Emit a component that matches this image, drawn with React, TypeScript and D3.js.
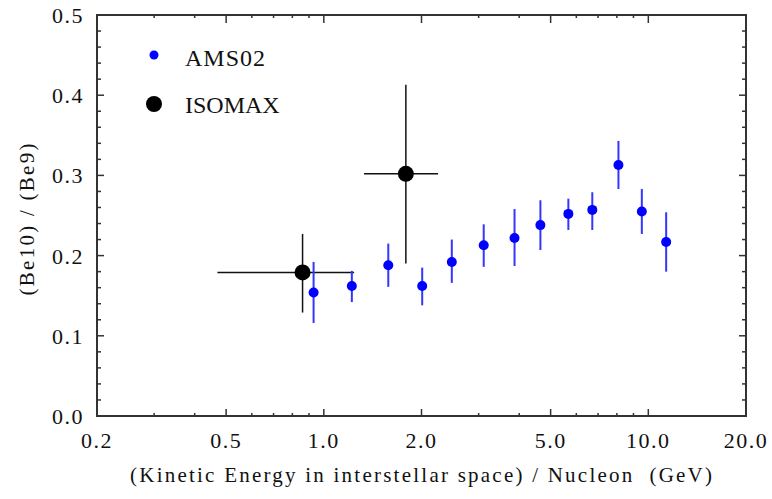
import React from "react";
import * as d3 from "d3";

// AMS02 data
const amsEnergy = [0.93, 1.22, 1.58, 2.01, 2.48, 3.11, 3.87, 4.65, 5.67, 6.72, 8.09, 9.55, 11.35];
const amsRatio = [0.154, 0.162, 0.188, 0.162, 0.192, 0.213, 0.222, 0.238, 0.252, 0.257, 0.313, 0.255, 0.217];
const amsHigh = [0.192, 0.181, 0.215, 0.185, 0.220, 0.239, 0.258, 0.269, 0.271, 0.279, 0.343, 0.283, 0.254];
const amsLow = [0.116, 0.142, 0.161, 0.138, 0.166, 0.186, 0.187, 0.207, 0.232, 0.232, 0.283, 0.227, 0.180];

// ISOMAX data
const isoEnergy = [0.86, 1.79];
const isoELow = [0.47, 1.33];
const isoEHigh = [1.24, 2.25];
const isoRatio = [0.179, 0.302];
const isoHigh = [0.227, 0.413];
const isoLow = [0.129, 0.19];

// ticks
const xMajor = [0.2, 0.5, 1, 2, 5, 10, 20];
const xMajorLabels = ["0.2", "0.5", "1.0", "2.0", "5.0", "10.0", "20.0"];
const xMinor = [0.3, 0.4, 0.6, 0.7, 0.8, 0.9, 3, 4, 6, 7, 8, 9];
const yMajor = [0, 0.1, 0.2, 0.3, 0.4, 0.5];
const yMajorLabels = ["0.0", "0.1", "0.2", "0.3", "0.4", "0.5"];
const yMinor = d3.range(0, 0.5001, 0.02).filter((v) => Math.abs(v * 10 - Math.round(v * 10)) > 1e-6);

const legendNames = ["AMS02", "ISOMAX"];

const W = 772;
const H = 499;
const L = 97, R = 746, T = 15, B = 416;

export default function App() {
  const x = d3.scaleLog().domain([0.2, 20]).range([L, R]);
  const y = d3.scaleLinear().domain([0, 0.5]).range([B, T]);
  const axisColor = "#333";
  const font = "'Liberation Serif', 'Times New Roman', serif";

  return (
    <svg width={W} height={H} style={{ position: "absolute", left: 0, top: 0, background: "#fff" }}>
      <rect x={0} y={0} width={W} height={H} fill="#fff" />
      {/* ticks */}
      <g stroke={axisColor} strokeWidth={1.5}>
        {xMajor.slice(1, -1).map((v) => (
          <g key={"xm" + v}>
            <line x1={x(v)} x2={x(v)} y1={B} y2={B - 7} />
            <line x1={x(v)} x2={x(v)} y1={T} y2={T + 8} />
          </g>
        ))}
        {xMinor.map((v) => (
          <g key={"xn" + v}>
            <line x1={x(v)} x2={x(v)} y1={B} y2={B - 3} />
            <line x1={x(v)} x2={x(v)} y1={T} y2={T + 3} />
          </g>
        ))}
        {yMajor.slice(1, -1).map((v) => (
          <g key={"ym" + v}>
            <line x1={L} x2={L + 7} y1={y(v)} y2={y(v)} />
            <line x1={R} x2={R - 7} y1={y(v)} y2={y(v)} />
          </g>
        ))}
        {yMinor.map((v) => (
          <g key={"yn" + v}>
            <line x1={L} x2={L + 4} y1={y(v)} y2={y(v)} />
            <line x1={R} x2={R - 4} y1={y(v)} y2={y(v)} />
          </g>
        ))}
      </g>
      <rect x={L} y={T} width={R - L} height={B - T} fill="none" stroke={axisColor} strokeWidth={2} />

      {/* tick labels */}
      <g fontFamily={font} fontSize={22} fill="#111" letterSpacing={1.5}>
        {xMajor.map((v, i) => (
          <text key={"xl" + v} x={x(v)} y={447.5} textAnchor="middle">
            {xMajorLabels[i]}
          </text>
        ))}
        {yMajor.map((v, i) => (
          <text key={"yl" + v} x={84} y={y(v) + 8} textAnchor="end">
            {yMajorLabels[i]}
          </text>
        ))}
      </g>

      {/* axis titles */}
      <text
        x={(130 + 712) / 2}
        y={482}
        textAnchor="middle"
        fontFamily={font}
        fontSize={21}
        fill="#111"
        textLength={582}
        lengthAdjust="spacing"
        style={{ whiteSpace: "pre" }}
      >
        {"(Kinetic Energy in interstellar space) / Nucleon  (GeV)"}
      </text>
      <text
        transform={`translate(34, ${(T + B) / 2 + 4}) rotate(-90)`}
        textAnchor="middle"
        fontFamily={font}
        fontSize={21}
        fill="#111"
        textLength={152}
        lengthAdjust="spacing"
      >
        (Be10) / (Be9)
      </text>

      {/* ISOMAX */}
      <g stroke="#111" strokeWidth={1.5}>
        {isoEnergy.map((e, i) => (
          <g key={"ie" + i}>
            <line x1={x(isoELow[i])} x2={x(isoEHigh[i])} y1={y(isoRatio[i])} y2={y(isoRatio[i])} />
            <line x1={x(e)} x2={x(e)} y1={y(isoLow[i])} y2={y(isoHigh[i])} />
          </g>
        ))}
      </g>
      {isoEnergy.map((e, i) => (
        <circle key={"ic" + i} cx={x(e)} cy={y(isoRatio[i])} r={8} fill="#000" />
      ))}

      {/* AMS02 */}
      <g stroke="#3535ff" strokeWidth={2}>
        {amsEnergy.map((e, i) => (
          <line key={"ae" + i} x1={x(e)} x2={x(e)} y1={y(amsLow[i])} y2={y(amsHigh[i])} />
        ))}
      </g>
      {amsEnergy.map((e, i) => (
        <circle key={"ac" + i} cx={x(e)} cy={y(amsRatio[i])} r={5} fill="#0000ff" />
      ))}

      {/* legend */}
      <circle cx={154} cy={55} r={4.5} fill="#0000ff" />
      <circle cx={154} cy={104} r={8} fill="#000" />
      <g fontFamily={font} fontSize={24} fill="#111">
        <text x={185} y={65.5} letterSpacing={1}>{legendNames[0]}</text>
        <text x={185} y={113}>{legendNames[1]}</text>
      </g>
    </svg>
  );
}
